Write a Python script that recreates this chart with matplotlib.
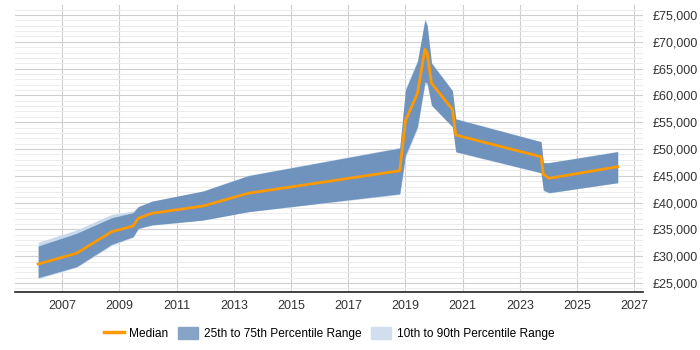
import matplotlib
matplotlib.use("Agg")
import matplotlib.pyplot as plt
from matplotlib.ticker import MultipleLocator, FixedLocator, FuncFormatter
from matplotlib.lines import Line2D
from matplotlib.patches import Patch

plt.rcParams['font.family'] = ['Liberation Sans', 'DejaVu Sans']

years = [2006.16, 2007.5, 2008.73, 2009.48, 2009.66, 2010.13, 2011.93, 2013.5,
         2018.8, 2019.0, 2019.42, 2019.68, 2019.76, 2019.91, 2020.64, 2020.76,
         2023.74, 2023.82, 2024.02, 2026.42]
median = [28545, 30540, 34570, 35630, 37070, 38000, 39370, 41740,
          45950, 55280, 60400, 68600, 67850, 62250, 57400, 52610,
          48560, 45280, 44530, 46700]
p25 = [26000, 28040, 32220, 33640, 35200, 35820, 36750, 38300,
       41650, 48880, 54180, 62560, 62300, 58200, 54160, 49500,
       45580, 42350, 41850, 43720]
p75 = [31900, 34270, 37180, 38120, 39240, 40240, 42160, 45020,
       50180, 61000, 66340, 74070, 73000, 66000, 60880, 55600,
       51360, 47450, 47450, 49500]
p10 = [25800, 27900, 32000, 33500, 35100, 35800, 36750, 38300,
       41500, 48300, 53800, 62000, 61900, 58100, 54100, 49400,
       45500, 42200, 41800, 43700]
p90 = [32600, 34900, 37800, 38430, 39300, 40300, 42200, 45100,
       50300, 61300, 66600, 74400, 73300, 66200, 61000, 55700,
       51400, 47500, 47500, 49600]
xticks = [2007, 2009, 2011, 2013, 2015, 2017, 2019, 2021, 2023, 2025, 2027]

fig = plt.figure(figsize=(7, 3.5), dpi=100)
ax = fig.add_axes([0.0214, 0.1657, 0.8966, 0.82])

c_iqr = "#6f93bc"
c_dec = "#c9d9ec"
c_med = "#ff9900"

ax.fill_between(years, p10, p90, color=c_dec, lw=0, zorder=2)
ax.fill_between(years, p25, p75, color=c_iqr, lw=0, zorder=3)
ax.plot(years, median, color=c_med, lw=2, zorder=4)

ax.set_xlim(2005.35, 2027.29)
ax.set_ylim(23320, 76870)
ax.xaxis.set_major_locator(FixedLocator(xticks))
ax.xaxis.set_major_formatter(FuncFormatter(lambda v, p: f"{int(round(v))}"))
ax.yaxis.set_major_locator(MultipleLocator(5000))
ax.yaxis.set_minor_locator(MultipleLocator(1000))
ax.yaxis.set_major_formatter(FuncFormatter(lambda v, p: f"£{int(v):,}"))
ax.yaxis.tick_right()

ax.grid(which="major", axis="both", color="#cfcfcf", lw=0.8, zorder=0)
ax.grid(which="minor", axis="y", color="#ececec", lw=0.7, zorder=0)
ax.set_axisbelow(True)

for s in ["top", "left", "right"]:
    ax.spines[s].set_visible(False)
ax.spines["bottom"].set_color("#222222")
ax.spines["bottom"].set_linewidth(1.2)

ax.tick_params(axis="both", which="both", length=0, labelsize=9, colors="#333333")
ax.tick_params(axis="x", pad=6)
ax.tick_params(axis="y", pad=7)

handles = [Line2D([0], [0], color=c_med, lw=2.5),
           Patch(color="#87a4c6"), Patch(color="#d0deee")]
labels = ["Median", "25th to 75th Percentile Range", "10th to 90th Percentile Range"]
fig.legend(handles, labels, loc="center", bbox_to_anchor=(0.47, 0.047), ncol=3,
           frameon=False, fontsize=8.6, handlelength=1.7, handleheight=1.1,
           columnspacing=0.8, handletextpad=0.45)

fig.savefig("out.png", dpi=100)
